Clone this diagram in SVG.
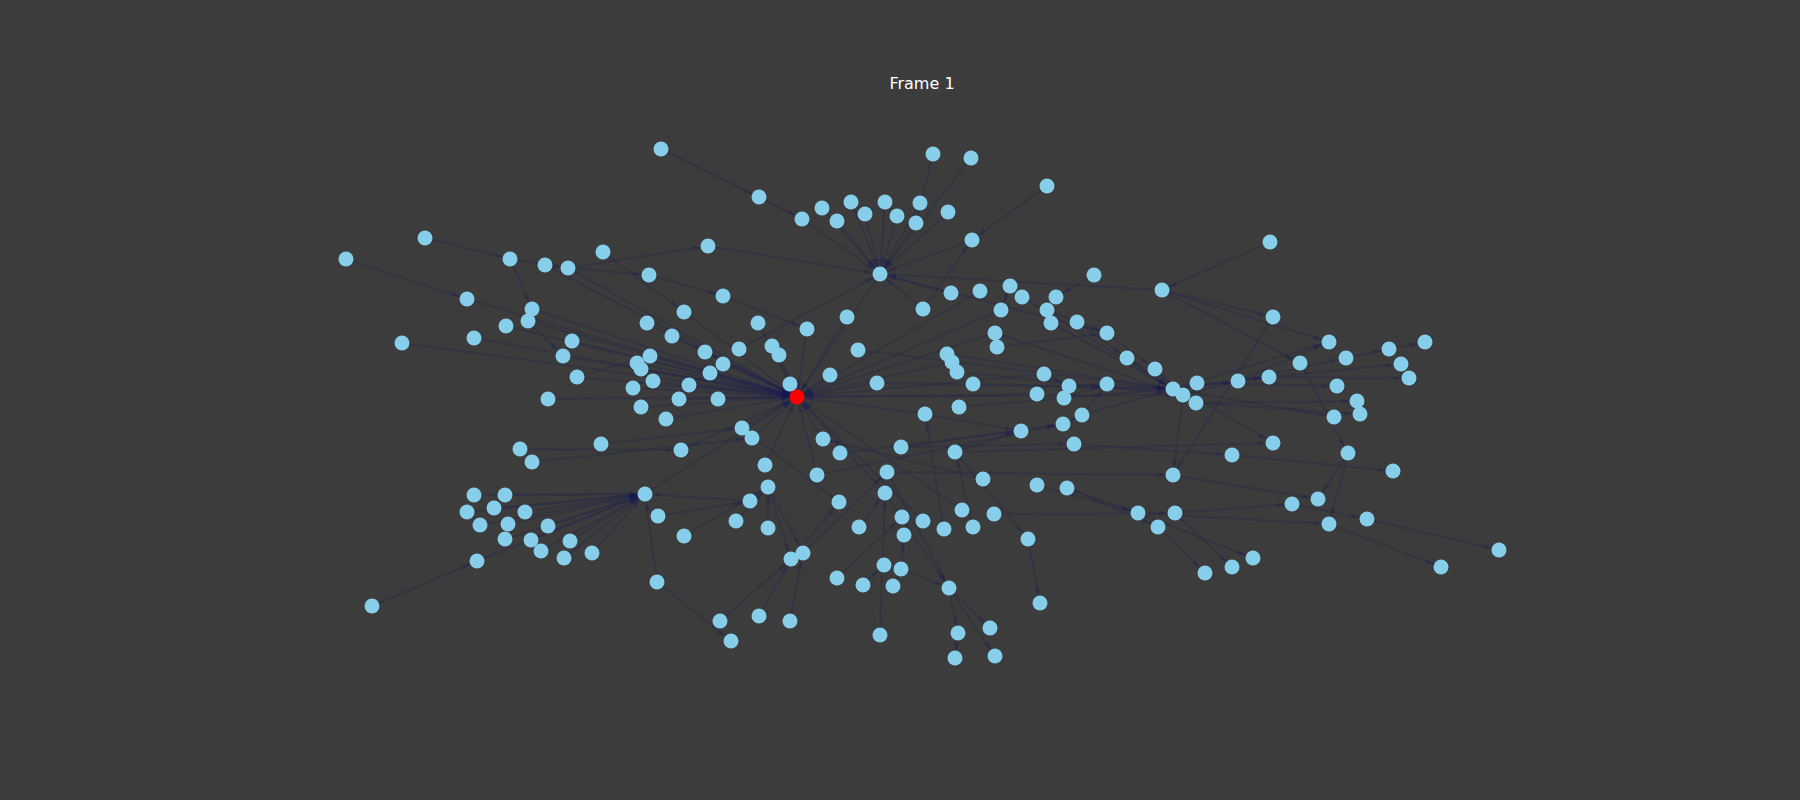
<svg xmlns="http://www.w3.org/2000/svg" width="1800" height="800" viewBox="0 0 1800 800">
<style>
#edges line{stroke:#1c1c55;stroke-opacity:.24;stroke-width:2;marker-end:url(#arr)}
.node circle{fill:#87ceeb}
.node.src circle{fill:#ff0000}
.title{font-family:"DejaVu Sans","Liberation Sans",sans-serif;font-size:16px;fill:#ffffff}
</style>
<defs>
<marker id="arr" markerUnits="userSpaceOnUse" markerWidth="20" markerHeight="8" viewBox="0 0 20 8" refX="16" refY="4" orient="auto">
<path d="M0,1.5 L8,4 L0,6.5 z" fill="#1c1c55" fill-opacity="0.3"/>
</marker>
</defs>
<rect width="1800" height="800" fill="#3c3c3c"/>
<text class="title" x="922" y="89" text-anchor="middle">Frame 1</text>
<g id="edges">
<line x1="802" y1="219" x2="880" y2="274"/>
<line x1="822" y1="208" x2="880" y2="274"/>
<line x1="837" y1="221" x2="880" y2="274"/>
<line x1="851" y1="202" x2="880" y2="274"/>
<line x1="865" y1="214" x2="880" y2="274"/>
<line x1="885" y1="202" x2="880" y2="274"/>
<line x1="897" y1="216" x2="880" y2="274"/>
<line x1="920" y1="203" x2="880" y2="274"/>
<line x1="916" y1="223" x2="880" y2="274"/>
<line x1="971" y1="158" x2="880" y2="274"/>
<line x1="948" y1="212" x2="880" y2="274"/>
<line x1="972" y1="240" x2="880" y2="274"/>
<line x1="708" y1="246" x2="880" y2="274"/>
<line x1="661" y1="149" x2="759" y2="197"/>
<line x1="759" y1="197" x2="802" y2="219"/>
<line x1="933" y1="154" x2="916" y2="223"/>
<line x1="1047" y1="186" x2="972" y2="240"/>
<line x1="923" y1="309" x2="972" y2="240"/>
<line x1="923" y1="309" x2="880" y2="274"/>
<line x1="1162" y1="290" x2="880" y2="274"/>
<line x1="951" y1="293" x2="880" y2="274"/>
<line x1="1107" y1="333" x2="880" y2="274"/>
<line x1="739" y1="349" x2="880" y2="274"/>
<line x1="880" y1="274" x2="797" y2="397"/>
<line x1="1270" y1="242" x2="1162" y2="290"/>
<line x1="1094" y1="275" x2="1056" y2="297"/>
<line x1="1162" y1="290" x2="1273" y2="317"/>
<line x1="1162" y1="290" x2="1300" y2="363"/>
<line x1="1162" y1="290" x2="1329" y2="342"/>
<line x1="346" y1="259" x2="467" y2="299"/>
<line x1="425" y1="238" x2="510" y2="259"/>
<line x1="510" y1="259" x2="532" y2="309"/>
<line x1="510" y1="259" x2="568" y2="268"/>
<line x1="568" y1="268" x2="708" y2="246"/>
<line x1="568" y1="268" x2="649" y2="275"/>
<line x1="603" y1="252" x2="684" y2="312"/>
<line x1="649" y1="275" x2="723" y2="296"/>
<line x1="723" y1="296" x2="807" y2="329"/>
<line x1="528" y1="321" x2="563" y2="356"/>
<line x1="577" y1="377" x2="650" y2="356"/>
<line x1="545" y1="265" x2="797" y2="397"/>
<line x1="568" y1="268" x2="797" y2="397"/>
<line x1="467" y1="299" x2="797" y2="397"/>
<line x1="532" y1="309" x2="797" y2="397"/>
<line x1="528" y1="321" x2="797" y2="397"/>
<line x1="506" y1="326" x2="797" y2="397"/>
<line x1="474" y1="338" x2="797" y2="397"/>
<line x1="402" y1="343" x2="797" y2="397"/>
<line x1="572" y1="341" x2="797" y2="397"/>
<line x1="563" y1="356" x2="797" y2="397"/>
<line x1="577" y1="377" x2="797" y2="397"/>
<line x1="548" y1="399" x2="797" y2="397"/>
<line x1="647" y1="323" x2="797" y2="397"/>
<line x1="684" y1="312" x2="797" y2="397"/>
<line x1="672" y1="336" x2="797" y2="397"/>
<line x1="758" y1="323" x2="797" y2="397"/>
<line x1="807" y1="329" x2="797" y2="397"/>
<line x1="847" y1="317" x2="797" y2="397"/>
<line x1="980" y1="291" x2="797" y2="397"/>
<line x1="1001" y1="310" x2="797" y2="397"/>
<line x1="995" y1="333" x2="797" y2="397"/>
<line x1="650" y1="356" x2="797" y2="397"/>
<line x1="637" y1="363" x2="797" y2="397"/>
<line x1="641" y1="369" x2="797" y2="397"/>
<line x1="653" y1="381" x2="797" y2="397"/>
<line x1="633" y1="388" x2="797" y2="397"/>
<line x1="689" y1="385" x2="797" y2="397"/>
<line x1="705" y1="352" x2="797" y2="397"/>
<line x1="723" y1="364" x2="797" y2="397"/>
<line x1="710" y1="373" x2="797" y2="397"/>
<line x1="772" y1="346" x2="797" y2="397"/>
<line x1="779" y1="355" x2="797" y2="397"/>
<line x1="790" y1="384" x2="797" y2="397"/>
<line x1="830" y1="375" x2="797" y2="397"/>
<line x1="877" y1="383" x2="797" y2="397"/>
<line x1="679" y1="399" x2="797" y2="397"/>
<line x1="718" y1="399" x2="797" y2="397"/>
<line x1="641" y1="407" x2="797" y2="397"/>
<line x1="666" y1="419" x2="797" y2="397"/>
<line x1="952" y1="362" x2="797" y2="397"/>
<line x1="1044" y1="374" x2="797" y2="397"/>
<line x1="1037" y1="394" x2="797" y2="397"/>
<line x1="925" y1="414" x2="797" y2="397"/>
<line x1="742" y1="428" x2="797" y2="397"/>
<line x1="752" y1="438" x2="797" y2="397"/>
<line x1="823" y1="439" x2="797" y2="397"/>
<line x1="681" y1="450" x2="797" y2="397"/>
<line x1="765" y1="465" x2="797" y2="397"/>
<line x1="817" y1="475" x2="797" y2="397"/>
<line x1="645" y1="494" x2="797" y2="397"/>
<line x1="885" y1="493" x2="797" y2="397"/>
<line x1="923" y1="521" x2="797" y2="397"/>
<line x1="962" y1="510" x2="797" y2="397"/>
<line x1="797" y1="397" x2="1183" y2="395"/>
<line x1="520" y1="449" x2="681" y2="450"/>
<line x1="532" y1="462" x2="752" y2="438"/>
<line x1="601" y1="444" x2="742" y2="428"/>
<line x1="474" y1="495" x2="645" y2="494"/>
<line x1="505" y1="495" x2="645" y2="494"/>
<line x1="467" y1="512" x2="645" y2="494"/>
<line x1="494" y1="508" x2="645" y2="494"/>
<line x1="525" y1="512" x2="645" y2="494"/>
<line x1="480" y1="525" x2="645" y2="494"/>
<line x1="508" y1="524" x2="645" y2="494"/>
<line x1="548" y1="526" x2="645" y2="494"/>
<line x1="505" y1="539" x2="645" y2="494"/>
<line x1="531" y1="540" x2="645" y2="494"/>
<line x1="570" y1="541" x2="645" y2="494"/>
<line x1="541" y1="551" x2="645" y2="494"/>
<line x1="564" y1="558" x2="645" y2="494"/>
<line x1="592" y1="553" x2="645" y2="494"/>
<line x1="477" y1="561" x2="645" y2="494"/>
<line x1="372" y1="606" x2="477" y2="561"/>
<line x1="658" y1="516" x2="750" y2="501"/>
<line x1="750" y1="501" x2="645" y2="494"/>
<line x1="657" y1="582" x2="645" y2="494"/>
<line x1="657" y1="582" x2="731" y2="641"/>
<line x1="720" y1="621" x2="791" y2="559"/>
<line x1="759" y1="616" x2="791" y2="559"/>
<line x1="790" y1="621" x2="803" y2="553"/>
<line x1="803" y1="553" x2="887" y2="472"/>
<line x1="791" y1="559" x2="839" y2="502"/>
<line x1="768" y1="487" x2="791" y2="559"/>
<line x1="768" y1="487" x2="803" y2="553"/>
<line x1="736" y1="521" x2="768" y2="487"/>
<line x1="768" y1="528" x2="768" y2="487"/>
<line x1="684" y1="536" x2="768" y2="487"/>
<line x1="839" y1="502" x2="742" y2="428"/>
<line x1="859" y1="527" x2="885" y2="493"/>
<line x1="837" y1="578" x2="902" y2="517"/>
<line x1="863" y1="585" x2="884" y2="565"/>
<line x1="880" y1="635" x2="885" y2="493"/>
<line x1="901" y1="569" x2="904" y2="535"/>
<line x1="893" y1="586" x2="901" y2="569"/>
<line x1="901" y1="569" x2="949" y2="588"/>
<line x1="885" y1="493" x2="949" y2="588"/>
<line x1="887" y1="472" x2="949" y2="588"/>
<line x1="949" y1="588" x2="958" y2="633"/>
<line x1="958" y1="633" x2="955" y2="658"/>
<line x1="949" y1="588" x2="990" y2="628"/>
<line x1="949" y1="588" x2="995" y2="656"/>
<line x1="955" y1="452" x2="1028" y2="539"/>
<line x1="1028" y1="539" x2="1040" y2="603"/>
<line x1="994" y1="514" x2="1175" y2="513"/>
<line x1="1037" y1="485" x2="1138" y2="513"/>
<line x1="1067" y1="488" x2="1138" y2="513"/>
<line x1="1067" y1="488" x2="1158" y2="527"/>
<line x1="1158" y1="527" x2="1205" y2="573"/>
<line x1="1175" y1="513" x2="1232" y2="567"/>
<line x1="1138" y1="513" x2="1253" y2="558"/>
<line x1="1175" y1="513" x2="1292" y2="504"/>
<line x1="1138" y1="513" x2="1329" y2="524"/>
<line x1="1292" y1="504" x2="1367" y2="519"/>
<line x1="1367" y1="519" x2="1499" y2="550"/>
<line x1="1329" y1="524" x2="1441" y2="567"/>
<line x1="1348" y1="453" x2="1318" y2="499"/>
<line x1="1348" y1="453" x2="1329" y2="524"/>
<line x1="1173" y1="475" x2="1318" y2="499"/>
<line x1="887" y1="472" x2="1173" y2="475"/>
<line x1="901" y1="447" x2="1074" y2="444"/>
<line x1="1074" y1="444" x2="1232" y2="455"/>
<line x1="1232" y1="455" x2="1393" y2="471"/>
<line x1="955" y1="452" x2="1273" y2="443"/>
<line x1="1127" y1="358" x2="1273" y2="443"/>
<line x1="1300" y1="363" x2="1348" y2="453"/>
<line x1="1273" y1="317" x2="1173" y2="475"/>
<line x1="1183" y1="395" x2="1173" y2="475"/>
<line x1="983" y1="479" x2="823" y2="439"/>
<line x1="973" y1="527" x2="955" y2="452"/>
<line x1="944" y1="529" x2="925" y2="414"/>
<line x1="955" y1="452" x2="1021" y2="431"/>
<line x1="901" y1="447" x2="1063" y2="424"/>
<line x1="817" y1="475" x2="1063" y2="424"/>
<line x1="925" y1="414" x2="1021" y2="431"/>
<line x1="840" y1="453" x2="1021" y2="431"/>
<line x1="959" y1="407" x2="1173" y2="389"/>
<line x1="1082" y1="415" x2="1063" y2="424"/>
<line x1="1082" y1="415" x2="1107" y2="384"/>
<line x1="1082" y1="415" x2="1173" y2="389"/>
<line x1="1064" y1="398" x2="1107" y2="384"/>
<line x1="1069" y1="386" x2="1107" y2="384"/>
<line x1="1044" y1="374" x2="1069" y2="386"/>
<line x1="973" y1="384" x2="1173" y2="389"/>
<line x1="957" y1="372" x2="1183" y2="395"/>
<line x1="947" y1="354" x2="1173" y2="389"/>
<line x1="858" y1="350" x2="1173" y2="389"/>
<line x1="877" y1="383" x2="1173" y2="389"/>
<line x1="1107" y1="384" x2="1173" y2="389"/>
<line x1="1127" y1="358" x2="1173" y2="389"/>
<line x1="1155" y1="369" x2="1183" y2="395"/>
<line x1="1107" y1="333" x2="1155" y2="369"/>
<line x1="997" y1="347" x2="1107" y2="333"/>
<line x1="1047" y1="310" x2="1107" y2="333"/>
<line x1="1077" y1="322" x2="1127" y2="358"/>
<line x1="1051" y1="323" x2="1173" y2="389"/>
<line x1="995" y1="333" x2="1183" y2="395"/>
<line x1="1022" y1="297" x2="1173" y2="389"/>
<line x1="1010" y1="286" x2="1001" y2="310"/>
<line x1="1173" y1="389" x2="1238" y2="381"/>
<line x1="1183" y1="395" x2="1238" y2="381"/>
<line x1="1173" y1="389" x2="1269" y2="377"/>
<line x1="1238" y1="381" x2="1269" y2="377"/>
<line x1="1238" y1="381" x2="1329" y2="342"/>
<line x1="1173" y1="389" x2="1329" y2="342"/>
<line x1="1238" y1="381" x2="1346" y2="358"/>
<line x1="1346" y1="358" x2="1389" y2="349"/>
<line x1="1389" y1="349" x2="1425" y2="342"/>
<line x1="1269" y1="377" x2="1401" y2="364"/>
<line x1="1269" y1="377" x2="1409" y2="378"/>
<line x1="1197" y1="383" x2="1337" y2="386"/>
<line x1="1196" y1="403" x2="1357" y2="401"/>
<line x1="1196" y1="403" x2="1360" y2="414"/>
<line x1="1173" y1="389" x2="1334" y2="417"/>
</g>
<g id="n1" class="node"><circle cx="661" cy="149" r="7.5"/></g>
<g id="n2" class="node"><circle cx="933" cy="154" r="7.5"/></g>
<g id="n3" class="node"><circle cx="971" cy="158" r="7.5"/></g>
<g id="n4" class="node"><circle cx="1047" cy="186" r="7.5"/></g>
<g id="n5" class="node"><circle cx="759" cy="197" r="7.5"/></g>
<g id="n6" class="node"><circle cx="802" cy="219" r="7.5"/></g>
<g id="n7" class="node"><circle cx="822" cy="208" r="7.5"/></g>
<g id="n8" class="node"><circle cx="837" cy="221" r="7.5"/></g>
<g id="n9" class="node"><circle cx="851" cy="202" r="7.5"/></g>
<g id="n10" class="node"><circle cx="865" cy="214" r="7.5"/></g>
<g id="n11" class="node"><circle cx="885" cy="202" r="7.5"/></g>
<g id="n12" class="node"><circle cx="897" cy="216" r="7.5"/></g>
<g id="n13" class="node"><circle cx="920" cy="203" r="7.5"/></g>
<g id="n14" class="node"><circle cx="916" cy="223" r="7.5"/></g>
<g id="n15" class="node"><circle cx="948" cy="212" r="7.5"/></g>
<g id="n16" class="node"><circle cx="972" cy="240" r="7.5"/></g>
<g id="n17" class="node"><circle cx="880" cy="274" r="7.5"/></g>
<g id="n18" class="node"><circle cx="1270" cy="242" r="7.5"/></g>
<g id="n19" class="node"><circle cx="346" cy="259" r="7.5"/></g>
<g id="n20" class="node"><circle cx="425" cy="238" r="7.5"/></g>
<g id="n21" class="node"><circle cx="510" cy="259" r="7.5"/></g>
<g id="n22" class="node"><circle cx="545" cy="265" r="7.5"/></g>
<g id="n23" class="node"><circle cx="568" cy="268" r="7.5"/></g>
<g id="n24" class="node"><circle cx="603" cy="252" r="7.5"/></g>
<g id="n25" class="node"><circle cx="708" cy="246" r="7.5"/></g>
<g id="n26" class="node"><circle cx="649" cy="275" r="7.5"/></g>
<g id="n27" class="node"><circle cx="1094" cy="275" r="7.5"/></g>
<g id="n28" class="node"><circle cx="1162" cy="290" r="7.5"/></g>
<g id="n29" class="node"><circle cx="467" cy="299" r="7.5"/></g>
<g id="n30" class="node"><circle cx="532" cy="309" r="7.5"/></g>
<g id="n31" class="node"><circle cx="528" cy="321" r="7.5"/></g>
<g id="n32" class="node"><circle cx="506" cy="326" r="7.5"/></g>
<g id="n33" class="node"><circle cx="474" cy="338" r="7.5"/></g>
<g id="n34" class="node"><circle cx="402" cy="343" r="7.5"/></g>
<g id="n35" class="node"><circle cx="572" cy="341" r="7.5"/></g>
<g id="n36" class="node"><circle cx="563" cy="356" r="7.5"/></g>
<g id="n37" class="node"><circle cx="577" cy="377" r="7.5"/></g>
<g id="n38" class="node"><circle cx="548" cy="399" r="7.5"/></g>
<g id="n39" class="node"><circle cx="647" cy="323" r="7.5"/></g>
<g id="n40" class="node"><circle cx="684" cy="312" r="7.5"/></g>
<g id="n41" class="node"><circle cx="723" cy="296" r="7.5"/></g>
<g id="n42" class="node"><circle cx="672" cy="336" r="7.5"/></g>
<g id="n43" class="node"><circle cx="758" cy="323" r="7.5"/></g>
<g id="n44" class="node"><circle cx="807" cy="329" r="7.5"/></g>
<g id="n45" class="node"><circle cx="847" cy="317" r="7.5"/></g>
<g id="n46" class="node"><circle cx="923" cy="309" r="7.5"/></g>
<g id="n47" class="node"><circle cx="951" cy="293" r="7.5"/></g>
<g id="n48" class="node"><circle cx="980" cy="291" r="7.5"/></g>
<g id="n49" class="node"><circle cx="1010" cy="286" r="7.5"/></g>
<g id="n50" class="node"><circle cx="1022" cy="297" r="7.5"/></g>
<g id="n51" class="node"><circle cx="1056" cy="297" r="7.5"/></g>
<g id="n52" class="node"><circle cx="1001" cy="310" r="7.5"/></g>
<g id="n53" class="node"><circle cx="1047" cy="310" r="7.5"/></g>
<g id="n54" class="node"><circle cx="1051" cy="323" r="7.5"/></g>
<g id="n55" class="node"><circle cx="1077" cy="322" r="7.5"/></g>
<g id="n56" class="node"><circle cx="995" cy="333" r="7.5"/></g>
<g id="n57" class="node"><circle cx="997" cy="347" r="7.5"/></g>
<g id="n58" class="node"><circle cx="1107" cy="333" r="7.5"/></g>
<g id="n59" class="node"><circle cx="1273" cy="317" r="7.5"/></g>
<g id="n60" class="node"><circle cx="650" cy="356" r="7.5"/></g>
<g id="n61" class="node"><circle cx="637" cy="363" r="7.5"/></g>
<g id="n62" class="node"><circle cx="641" cy="369" r="7.5"/></g>
<g id="n63" class="node"><circle cx="653" cy="381" r="7.5"/></g>
<g id="n64" class="node"><circle cx="633" cy="388" r="7.5"/></g>
<g id="n65" class="node"><circle cx="689" cy="385" r="7.5"/></g>
<g id="n66" class="node"><circle cx="705" cy="352" r="7.5"/></g>
<g id="n67" class="node"><circle cx="739" cy="349" r="7.5"/></g>
<g id="n68" class="node"><circle cx="723" cy="364" r="7.5"/></g>
<g id="n69" class="node"><circle cx="710" cy="373" r="7.5"/></g>
<g id="n70" class="node"><circle cx="772" cy="346" r="7.5"/></g>
<g id="n71" class="node"><circle cx="779" cy="355" r="7.5"/></g>
<g id="n72" class="node"><circle cx="858" cy="350" r="7.5"/></g>
<g id="n73" class="node"><circle cx="790" cy="384" r="7.5"/></g>
<g id="n74" class="node"><circle cx="830" cy="375" r="7.5"/></g>
<g id="n75" class="node"><circle cx="877" cy="383" r="7.5"/></g>
<g id="n76" class="node src"><circle cx="797" cy="397" r="7.5"/></g>
<g id="n77" class="node"><circle cx="679" cy="399" r="7.5"/></g>
<g id="n78" class="node"><circle cx="718" cy="399" r="7.5"/></g>
<g id="n79" class="node"><circle cx="641" cy="407" r="7.5"/></g>
<g id="n80" class="node"><circle cx="666" cy="419" r="7.5"/></g>
<g id="n81" class="node"><circle cx="947" cy="354" r="7.5"/></g>
<g id="n82" class="node"><circle cx="952" cy="362" r="7.5"/></g>
<g id="n83" class="node"><circle cx="957" cy="372" r="7.5"/></g>
<g id="n84" class="node"><circle cx="973" cy="384" r="7.5"/></g>
<g id="n85" class="node"><circle cx="1044" cy="374" r="7.5"/></g>
<g id="n86" class="node"><circle cx="1069" cy="386" r="7.5"/></g>
<g id="n87" class="node"><circle cx="1037" cy="394" r="7.5"/></g>
<g id="n88" class="node"><circle cx="1064" cy="398" r="7.5"/></g>
<g id="n89" class="node"><circle cx="1082" cy="415" r="7.5"/></g>
<g id="n90" class="node"><circle cx="1107" cy="384" r="7.5"/></g>
<g id="n91" class="node"><circle cx="1127" cy="358" r="7.5"/></g>
<g id="n92" class="node"><circle cx="1155" cy="369" r="7.5"/></g>
<g id="n93" class="node"><circle cx="1173" cy="389" r="7.5"/></g>
<g id="n94" class="node"><circle cx="1183" cy="395" r="7.5"/></g>
<g id="n95" class="node"><circle cx="1197" cy="383" r="7.5"/></g>
<g id="n96" class="node"><circle cx="1196" cy="403" r="7.5"/></g>
<g id="n97" class="node"><circle cx="1238" cy="381" r="7.5"/></g>
<g id="n98" class="node"><circle cx="1269" cy="377" r="7.5"/></g>
<g id="n99" class="node"><circle cx="1300" cy="363" r="7.5"/></g>
<g id="n100" class="node"><circle cx="1329" cy="342" r="7.5"/></g>
<g id="n101" class="node"><circle cx="1346" cy="358" r="7.5"/></g>
<g id="n102" class="node"><circle cx="1389" cy="349" r="7.5"/></g>
<g id="n103" class="node"><circle cx="1425" cy="342" r="7.5"/></g>
<g id="n104" class="node"><circle cx="1401" cy="364" r="7.5"/></g>
<g id="n105" class="node"><circle cx="1409" cy="378" r="7.5"/></g>
<g id="n106" class="node"><circle cx="1337" cy="386" r="7.5"/></g>
<g id="n107" class="node"><circle cx="1357" cy="401" r="7.5"/></g>
<g id="n108" class="node"><circle cx="1360" cy="414" r="7.5"/></g>
<g id="n109" class="node"><circle cx="1334" cy="417" r="7.5"/></g>
<g id="n110" class="node"><circle cx="925" cy="414" r="7.5"/></g>
<g id="n111" class="node"><circle cx="959" cy="407" r="7.5"/></g>
<g id="n112" class="node"><circle cx="742" cy="428" r="7.5"/></g>
<g id="n113" class="node"><circle cx="752" cy="438" r="7.5"/></g>
<g id="n114" class="node"><circle cx="823" cy="439" r="7.5"/></g>
<g id="n115" class="node"><circle cx="840" cy="453" r="7.5"/></g>
<g id="n116" class="node"><circle cx="901" cy="447" r="7.5"/></g>
<g id="n117" class="node"><circle cx="955" cy="452" r="7.5"/></g>
<g id="n118" class="node"><circle cx="1021" cy="431" r="7.5"/></g>
<g id="n119" class="node"><circle cx="1063" cy="424" r="7.5"/></g>
<g id="n120" class="node"><circle cx="1074" cy="444" r="7.5"/></g>
<g id="n121" class="node"><circle cx="1232" cy="455" r="7.5"/></g>
<g id="n122" class="node"><circle cx="1273" cy="443" r="7.5"/></g>
<g id="n123" class="node"><circle cx="1348" cy="453" r="7.5"/></g>
<g id="n124" class="node"><circle cx="1393" cy="471" r="7.5"/></g>
<g id="n125" class="node"><circle cx="520" cy="449" r="7.5"/></g>
<g id="n126" class="node"><circle cx="532" cy="462" r="7.5"/></g>
<g id="n127" class="node"><circle cx="601" cy="444" r="7.5"/></g>
<g id="n128" class="node"><circle cx="681" cy="450" r="7.5"/></g>
<g id="n129" class="node"><circle cx="765" cy="465" r="7.5"/></g>
<g id="n130" class="node"><circle cx="817" cy="475" r="7.5"/></g>
<g id="n131" class="node"><circle cx="887" cy="472" r="7.5"/></g>
<g id="n132" class="node"><circle cx="983" cy="479" r="7.5"/></g>
<g id="n133" class="node"><circle cx="1173" cy="475" r="7.5"/></g>
<g id="n134" class="node"><circle cx="768" cy="487" r="7.5"/></g>
<g id="n135" class="node"><circle cx="750" cy="501" r="7.5"/></g>
<g id="n136" class="node"><circle cx="645" cy="494" r="7.5"/></g>
<g id="n137" class="node"><circle cx="474" cy="495" r="7.5"/></g>
<g id="n138" class="node"><circle cx="505" cy="495" r="7.5"/></g>
<g id="n139" class="node"><circle cx="467" cy="512" r="7.5"/></g>
<g id="n140" class="node"><circle cx="494" cy="508" r="7.5"/></g>
<g id="n141" class="node"><circle cx="525" cy="512" r="7.5"/></g>
<g id="n142" class="node"><circle cx="480" cy="525" r="7.5"/></g>
<g id="n143" class="node"><circle cx="508" cy="524" r="7.5"/></g>
<g id="n144" class="node"><circle cx="548" cy="526" r="7.5"/></g>
<g id="n145" class="node"><circle cx="505" cy="539" r="7.5"/></g>
<g id="n146" class="node"><circle cx="531" cy="540" r="7.5"/></g>
<g id="n147" class="node"><circle cx="570" cy="541" r="7.5"/></g>
<g id="n148" class="node"><circle cx="541" cy="551" r="7.5"/></g>
<g id="n149" class="node"><circle cx="564" cy="558" r="7.5"/></g>
<g id="n150" class="node"><circle cx="592" cy="553" r="7.5"/></g>
<g id="n151" class="node"><circle cx="477" cy="561" r="7.5"/></g>
<g id="n152" class="node"><circle cx="372" cy="606" r="7.5"/></g>
<g id="n153" class="node"><circle cx="658" cy="516" r="7.5"/></g>
<g id="n154" class="node"><circle cx="684" cy="536" r="7.5"/></g>
<g id="n155" class="node"><circle cx="736" cy="521" r="7.5"/></g>
<g id="n156" class="node"><circle cx="768" cy="528" r="7.5"/></g>
<g id="n157" class="node"><circle cx="839" cy="502" r="7.5"/></g>
<g id="n158" class="node"><circle cx="885" cy="493" r="7.5"/></g>
<g id="n159" class="node"><circle cx="902" cy="517" r="7.5"/></g>
<g id="n160" class="node"><circle cx="904" cy="535" r="7.5"/></g>
<g id="n161" class="node"><circle cx="923" cy="521" r="7.5"/></g>
<g id="n162" class="node"><circle cx="944" cy="529" r="7.5"/></g>
<g id="n163" class="node"><circle cx="962" cy="510" r="7.5"/></g>
<g id="n164" class="node"><circle cx="973" cy="527" r="7.5"/></g>
<g id="n165" class="node"><circle cx="994" cy="514" r="7.5"/></g>
<g id="n166" class="node"><circle cx="1037" cy="485" r="7.5"/></g>
<g id="n167" class="node"><circle cx="1067" cy="488" r="7.5"/></g>
<g id="n168" class="node"><circle cx="1028" cy="539" r="7.5"/></g>
<g id="n169" class="node"><circle cx="1138" cy="513" r="7.5"/></g>
<g id="n170" class="node"><circle cx="1158" cy="527" r="7.5"/></g>
<g id="n171" class="node"><circle cx="1175" cy="513" r="7.5"/></g>
<g id="n172" class="node"><circle cx="1292" cy="504" r="7.5"/></g>
<g id="n173" class="node"><circle cx="1318" cy="499" r="7.5"/></g>
<g id="n174" class="node"><circle cx="1329" cy="524" r="7.5"/></g>
<g id="n175" class="node"><circle cx="1367" cy="519" r="7.5"/></g>
<g id="n176" class="node"><circle cx="1499" cy="550" r="7.5"/></g>
<g id="n177" class="node"><circle cx="1441" cy="567" r="7.5"/></g>
<g id="n178" class="node"><circle cx="1205" cy="573" r="7.5"/></g>
<g id="n179" class="node"><circle cx="1232" cy="567" r="7.5"/></g>
<g id="n180" class="node"><circle cx="1253" cy="558" r="7.5"/></g>
<g id="n181" class="node"><circle cx="859" cy="527" r="7.5"/></g>
<g id="n182" class="node"><circle cx="791" cy="559" r="7.5"/></g>
<g id="n183" class="node"><circle cx="803" cy="553" r="7.5"/></g>
<g id="n184" class="node"><circle cx="837" cy="578" r="7.5"/></g>
<g id="n185" class="node"><circle cx="863" cy="585" r="7.5"/></g>
<g id="n186" class="node"><circle cx="884" cy="565" r="7.5"/></g>
<g id="n187" class="node"><circle cx="901" cy="569" r="7.5"/></g>
<g id="n188" class="node"><circle cx="893" cy="586" r="7.5"/></g>
<g id="n189" class="node"><circle cx="949" cy="588" r="7.5"/></g>
<g id="n190" class="node"><circle cx="657" cy="582" r="7.5"/></g>
<g id="n191" class="node"><circle cx="720" cy="621" r="7.5"/></g>
<g id="n192" class="node"><circle cx="731" cy="641" r="7.5"/></g>
<g id="n193" class="node"><circle cx="759" cy="616" r="7.5"/></g>
<g id="n194" class="node"><circle cx="790" cy="621" r="7.5"/></g>
<g id="n195" class="node"><circle cx="880" cy="635" r="7.5"/></g>
<g id="n196" class="node"><circle cx="958" cy="633" r="7.5"/></g>
<g id="n197" class="node"><circle cx="990" cy="628" r="7.5"/></g>
<g id="n198" class="node"><circle cx="955" cy="658" r="7.5"/></g>
<g id="n199" class="node"><circle cx="995" cy="656" r="7.5"/></g>
<g id="n200" class="node"><circle cx="1040" cy="603" r="7.5"/></g>
</svg>
